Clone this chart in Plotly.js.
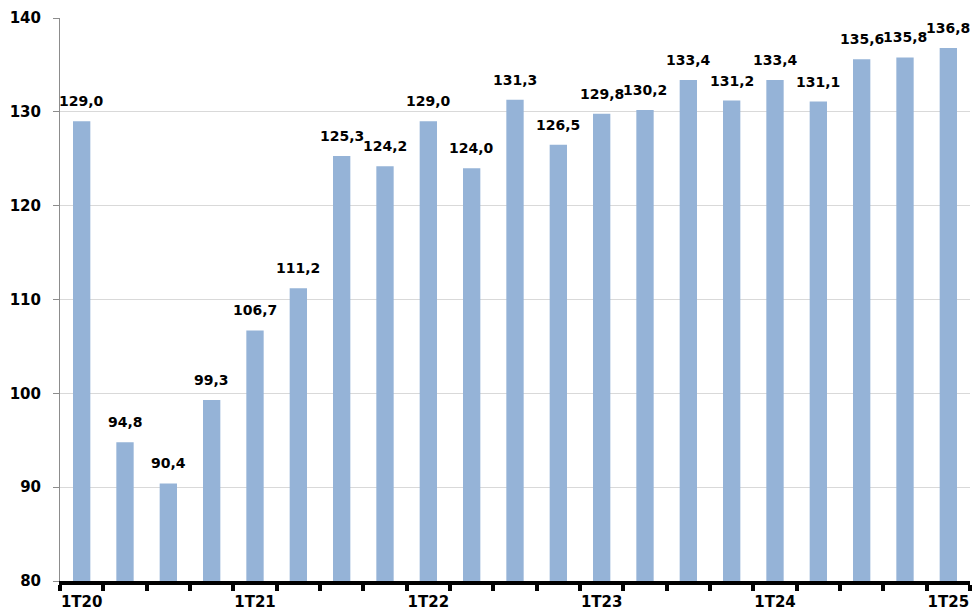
<!DOCTYPE html>
<html>
<head>
<meta charset="utf-8">
<script src="https://cdn.plot.ly/plotly-3.0.1.min.js"></script>
<style>
  html, body { margin: 0; padding: 0; background: #ffffff; }
  #chart { width: 973px; height: 613px; }
</style>
</head>
<body>
<div id="chart"></div>
<script>
// Quarters (1T20 .. 1T25)
const quarters = ['1T20','2T20','3T20','4T20','1T21','2T21','3T21','4T21','1T22','2T22','3T22','4T22',
                  '1T23','2T23','3T23','4T23','1T24','2T24','3T24','4T24','1T25'];
const values = [129.0, 94.8, 90.4, 99.3, 106.7, 111.2, 125.3, 124.2, 129.0, 124.0, 131.3, 126.5,
                129.8, 130.2, 133.4, 131.2, 133.4, 131.1, 135.6, 135.8, 136.8];
const shownTickLabels = ['1T20','1T21','1T22','1T23','1T24','1T25'];
const yTicks = [80, 90, 100, 110, 120, 130, 140];

const xIdx = quarters.map((q, i) => i);
const tickIdx = shownTickLabels.map(l => quarters.indexOf(l));

const fmt = v => v.toFixed(1).replace('.', ',');

const annotations = values.map((v, i) => ({
  x: i, y: v, xref: 'x', yref: 'y',
  text: fmt(v), showarrow: false,
  yanchor: 'middle', yshift: 20,
  font: { family: 'DejaVu Sans, Verdana, sans-serif', size: 14, color: '#000000', weight: 'bold' }
}));

const trace = {
  type: 'bar',
  x: xIdx,
  y: values,
  marker: { color: '#95b3d7', line: { width: 0 } },
  hoverinfo: 'skip'
};

const layout = {
  width: 973, height: 613,
  margin: { l: 60, r: 3, t: 18, b: 32 },
  paper_bgcolor: '#ffffff', plot_bgcolor: '#ffffff',
  showlegend: false,
  bargap: 0.6,
  font: { family: 'DejaVu Sans, Verdana, sans-serif', color: '#000000' },
  xaxis: {
    range: [-0.5, 20.5],
    tickmode: 'array',
    tickvals: tickIdx,
    ticktext: shownTickLabels,
    ticks: '',
    ticklabelstandoff: 4,
    tickfont: { size: 15, weight: 'bold', color: '#000000' },
    showgrid: false,
    zeroline: false,
    showline: true, linecolor: '#000000', linewidth: 4,
    minor: { ticks: 'outside', tickmode: 'linear', tick0: -0.5, dtick: 1, ticklen: 6, tickwidth: 4, tickcolor: '#000000', showgrid: false },
    fixedrange: true
  },
  yaxis: {
    range: [80, 140],
    tickmode: 'array',
    tickvals: yTicks,
    ticktext: yTicks.map(String),
    ticks: 'outside', ticklen: 6, tickwidth: 1, tickcolor: '#8c8c8c',
    ticklabelstandoff: 9,
    tickfont: { size: 15, weight: 'bold', color: '#000000' },
    showgrid: true, gridcolor: '#d9d9d9', gridwidth: 1,
    zeroline: false,
    showline: true, linecolor: '#8c8c8c', linewidth: 1,
    fixedrange: true
  },
  annotations: annotations
};

Plotly.newPlot('chart', [trace], layout, { displayModeBar: false, staticPlot: true });
</script>
</body>
</html>
